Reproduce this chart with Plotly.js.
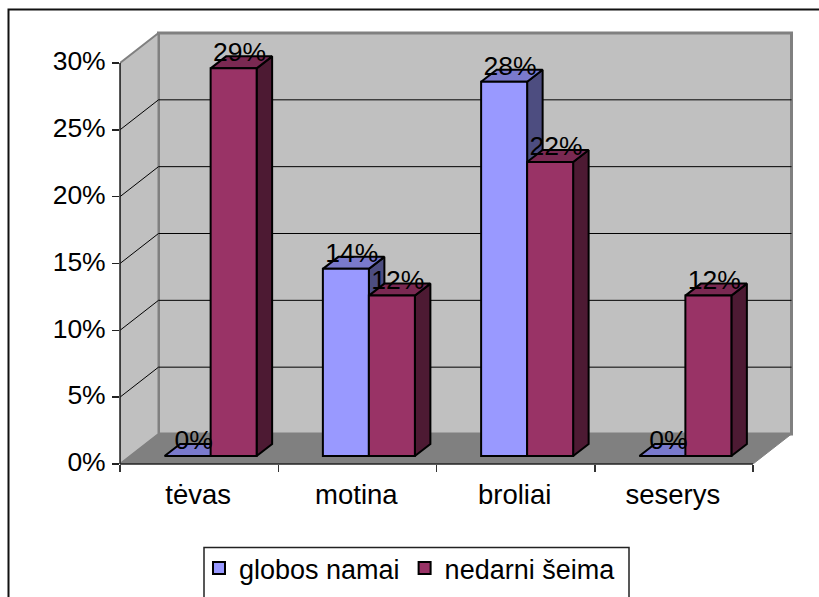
<!DOCTYPE html>
<html>
<head>
<meta charset="utf-8">
<script src="https://cdn.plot.ly/plotly-3.0.1.min.js"></script>
<style>html,body{margin:0;padding:0;background:#fff;overflow:hidden}</style>
</head>
<body>
<div id="chart" style="width:819px;height:597px"></div>
<script>
const categories = ['tėvas', 'motina', 'broliai', 'seserys'];
const seriesNames = ['globos namai', 'nedarni šeima'];
const globosNamai = [0, 14, 28, 0];
const nedarniSeima = [29, 12, 22, 12];
const yTicks = [0, 5, 10, 15, 20, 25, 30];

// Pixel frame: the plot area holds the whole 3-D box
const W = 819, H = 597, L = 120, R = 800, T = 25, B = 464;
const n = categories.length, yMax = yTicks[yTicks.length - 1];
const pxX = (753 - L) / n, pxY = (B - 63) / yMax;
const xEnd = (R - L) / pxX, yEnd = (B - T) / pxY;
// 3-D projection offsets, in data units
const wallDX = 38.5 / pxX, wallDY = 30 / pxY;
const barX = 11.5 / pxX, barY = 8 / pxY;
const depthX = 15.5 / pxX, depthY = 12 / pxY;
const barW = 46 / pxX;
const paperX = p => (p - L) / (R - L), paperY = p => (B - p) / (B - T);

const WALL = '#c0c0c0', FLOOR = '#808080', EDGE = '#808080';
const palette = [
  {front: '#9999ff', side: '#4d4d80', top: '#7a7acc'},
  {front: '#993366', side: '#4d1a33', top: '#7a2952'}
];

function poly(xs, ys, fill, color, width, z) {
  return {type: 'scatter', mode: 'lines', x: xs.concat(xs[0]), y: ys.concat(ys[0]),
    fill: 'toself', fillcolor: fill, line: {color: color, width: width},
    showlegend: false, hoverinfo: 'skip', zorder: z};
}
function segs(pairs, color, width, z) {
  const xs = [], ys = [];
  pairs.forEach(p => { xs.push(p[0], p[2], null); ys.push(p[1], p[3], null); });
  return {type: 'scatter', mode: 'lines', x: xs, y: ys, line: {color: color, width: width},
    showlegend: false, hoverinfo: 'skip', zorder: z};
}

const traces = [];
// walls and floor
traces.push(poly([wallDX, n + wallDX, n + wallDX, wallDX], [wallDY, wallDY, yMax + wallDY, yMax + wallDY], WALL, EDGE, 3, 0));
traces.push(poly([0, wallDX, wallDX, 0], [0, wallDY, yMax + wallDY, yMax], WALL, EDGE, 2, 0));
traces.push(poly([0, n, n + wallDX, wallDX], [0, 0, wallDY, wallDY], FLOOR, EDGE, 1, 0));
// gridlines
const inner = yTicks.filter(v => v > 0 && v < yMax);
traces.push(segs(inner.map(v => [0, v, wallDX, v + wallDY]).concat(inner.map(v => [wallDX, v + wallDY, n + wallDX, v + wallDY])), '#000', 1, 0));

// bars, painter's order
const allSeries = [globosNamai, nedarniSeima];
categories.forEach((c, i) => {
  allSeries.forEach((vals, s) => {
    const x0 = i + 0.5 + barX + (s - 1) * barW, x1 = x0 + barW, y0 = barY, y1 = barY + vals[i];
    const z = 1 + i * 4 + s * 2;
    traces.push(poly([x1, x1 + depthX, x1 + depthX, x1], [y0, y0 + depthY, y1 + depthY, y1], palette[s].side, '#000', 2, z));
    traces.push(poly([x0, x1, x1 + depthX, x0 + depthX], [y1, y1, y1 + depthY, y1 + depthY], palette[s].top, '#000', 2, z));
    traces.push({type: 'bar', x: [x0 + barW / 2], y: [vals[i]], base: barY, width: barW,
      name: seriesNames[s], legendgroup: seriesNames[s], showlegend: i === 0,
      marker: {color: palette[s].front, line: {color: '#000', width: 2}}, hoverinfo: 'skip', zorder: z + 1});
  });
});

// data labels
const lx = [], ly = [], lt = [];
allSeries.forEach((vals, s) => vals.forEach((v, i) => {
  lx.push(i + 0.5 + barX + (s - 0.5) * barW + 6 / pxX);
  ly.push(v + barY + 13.5 / pxY);
  lt.push(v + '%');
}));
traces.push({type: 'scatter', mode: 'text', x: lx, y: ly, text: lt, textposition: 'middle center',
  textfont: {family: 'Liberation Sans, Arial, sans-serif', size: 26.5, color: '#000'},
  showlegend: false, hoverinfo: 'skip', zorder: 50});

const layout = {
  width: W, height: H, paper_bgcolor: '#fff', plot_bgcolor: 'rgba(0,0,0,0)',
  margin: {l: L, r: W - R, t: T, b: H - B, pad: 0}, autosize: false,
  barmode: 'overlay', showlegend: true,
  font: {family: 'Liberation Sans, Arial, sans-serif', size: 26, color: '#000'},
  xaxis: {type: 'linear', range: [0, xEnd], tickmode: 'array', tickvals: categories.map((c, i) => i + 0.5),
    ticktext: categories, ticks: '', ticklen: 0, showgrid: false, zeroline: false, showline: false,
    tickfont: {size: 27.5}, ticklabelstandoff: 11, ticklabelshift: -1,
    minor: {tickmode: 'array', tickvals: categories.map((c, i) => i).concat(n), ticks: 'outside', ticklen: 7, tickwidth: 1.5, tickcolor: '#333', showgrid: false}},
  yaxis: {type: 'linear', range: [0, yEnd], tickmode: 'array', tickvals: yTicks, ticktext: yTicks.map(v => v + '%'),
    ticks: 'outside', ticklen: 7, tickwidth: 1.5, tickcolor: '#222', showgrid: false, zeroline: false,
    showline: false, tickfont: {size: 26.5}, ticklabelstandoff: 1, ticklabelshift: -2},
  legend: {orientation: 'h', xref: 'container', yref: 'container', x: 199 / W, y: 1 - 544 / H, xanchor: 'left', yanchor: 'top',
    bgcolor: 'rgba(0,0,0,0)', font: {size: 27}, traceorder: 'normal'},
  shapes: [
    {type: 'rect', xref: 'paper', yref: 'paper', layer: 'below', x0: paperX(8.5), x1: paperX(W + 20), y0: paperY(9.5), y1: paperY(H + 20), line: {color: '#111', width: 2}, fillcolor: 'rgba(0,0,0,0)'},
    {type: 'rect', xref: 'paper', yref: 'paper', layer: 'below', x0: paperX(204), x1: paperX(629), y0: paperY(547.5), y1: paperY(H + 20), line: {color: '#222', width: 1.5}, fillcolor: '#fff'},
    {type: 'line', xref: 'paper', yref: 'paper', layer: 'above', x0: 0, x1: 0, y0: 0, y1: yMax / yEnd, line: {color: '#222', width: 1.5}},
    {type: 'line', xref: 'paper', yref: 'paper', layer: 'above', x0: 0, x1: n / xEnd, y0: 0, y1: 0, line: {color: '#222', width: 1.5}}
  ]
};
Plotly.newPlot('chart', traces, layout, {displayModeBar: false, staticPlot: true});
</script>
</body>
</html>
